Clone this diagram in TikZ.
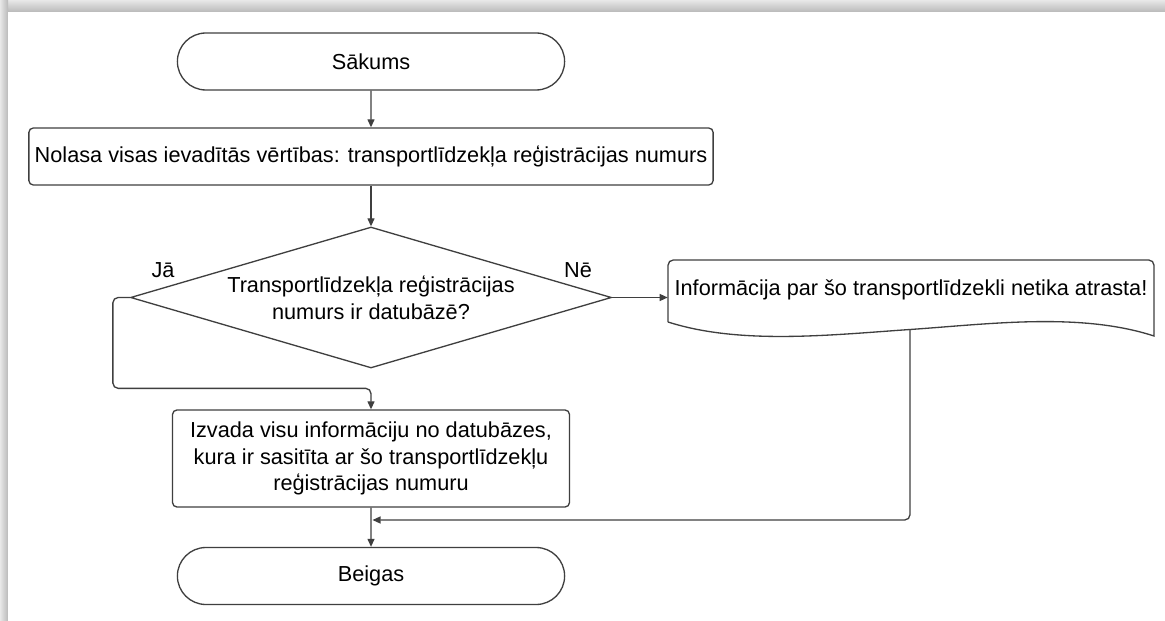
\documentclass[tikz,border=0pt]{standalone}
\usepackage{fontspec}
\setmainfont{Liberation Sans}
\usetikzlibrary{positioning, calc}
\usetikzlibrary{shapes.misc, shapes.geometric}
\usetikzlibrary{arrows.meta}
\definecolor{edge}{HTML}{3F3F3F}

\begin{document}
\begin{tikzpicture}[x=0.02cm, y=-0.02cm,
    every node/.style={font=\fontsize{12.35}{15.3}\selectfont, text=black},
    box/.style={draw=edge, line width=0.75pt, fill=white, align=center},
    term/.style={box, rounded rectangle, minimum width=7.98cm, minimum height=1.14cm},
    proc/.style={box, rectangle, rounded corners=2.5pt},
    decision/.style={box, diamond, aspect=3.41, inner sep=0pt, minimum width=9.62cm, minimum height=2.82cm},
    line/.style={draw=edge, line width=0.75pt},
    arr/.style={line, -{Triangle[length=4.6pt,width=4pt]}}]

    % frame with shadow
    \useasboundingbox (0,0) rectangle (1165,621);
    \shade[top color=gray!18, bottom color=gray!55] (0,0) rectangle (1165,12);
    \shade[left color=gray!18, right color=gray!55] (0,0) rectangle (8,621);
    \fill[white] (8,12) rectangle (1165,621);

    \node[term] (start) at (371,61.5) {Sākums};
    \node[proc, minimum width=13.64cm, minimum height=1.14cm] (read) at (371,156.5)
        {Nolasa visas ievadītās vērtības: transportlīdzekļa reģistrācijas numurs};
    \node[decision] (dec) at (371,297.5)
        {Transportlīdzekļa reģistrācijas\\numurs ir datubāzē?};
    \node[proc, minimum width=7.94cm, minimum height=1.94cm] (out) at (371,458.5)
        {Izvada visu informāciju no datubāzes,\\kura ir sasitīta ar šo transportlīdzekļu\\reģistrācijas numuru};
    \node[term] (stop) at (371,576) {Beigas};

    % document shape
    \draw[line] (668,322) [rounded corners=3pt] -- (668,260) -- (1154,260) [sharp corners] -- (1154,336)
        .. controls (1080,312) and (990,324) .. (910,329.5)
        .. controls (830,335) and (740,345) .. (668,322);
    \node[minimum width=9.72cm, minimum height=1.24cm, inner sep=0pt] (msg) at (911,290)
        {Informācija par šo transportlīdzekli netika atrasta!};

    \coordinate (msgin) at (msg.west |- dec.east);
    \coordinate (msgout) at (910,329.5);
    \coordinate (merge) at (372.5,520);

    \draw[arr] (start) -- (read);
    \draw[arr] (read) -- (dec);
    \draw[arr] (dec.east) -- (msgin);
    \draw[arr, rounded corners=3pt] (dec.west) -- ++(-17,0) |- ($(out.north)+(0,-21)$) -- (out.north);
    \draw[arr] (out) -- (stop);
    \draw[arr, rounded corners=3pt] (msgout) |- (merge);

    \node (yes) at (163,270) {Jā};
    \node (no) at (578,270) {Nē};
\end{tikzpicture}
\end{document}
